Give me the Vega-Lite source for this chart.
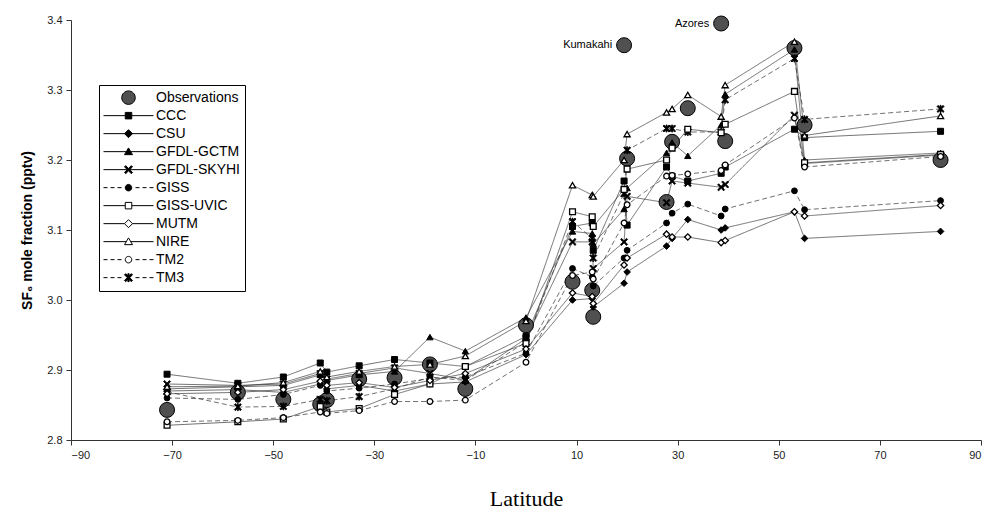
{
  "$schema": "https://vega.github.io/schema/vega-lite/v6.json",
  "width": 910,
  "height": 420,
  "autosize": {"type": "none"},
  "padding": {"left": 71, "top": 20, "right": 6, "bottom": 85},
  "background": "white",
  "config": {"view": {"stroke": null}, "font": "Liberation Sans"},
  "data": {"values": [
    {"lat": -71, "Observations": 2.843, "CCC": 2.894, "CSU": 2.870, "GFDL-GCTM": 2.873, "GFDL-SKYHI": 2.880, "GISS": 2.860, "GISS-UVIC": 2.821, "MUTM": 2.866, "NIRE": 2.876, "TM2": 2.826, "TM3": 2.869},
    {"lat": -57, "Observations": 2.868, "CCC": 2.881, "CSU": 2.872, "GFDL-GCTM": 2.876, "GFDL-SKYHI": 2.878, "GISS": 2.858, "GISS-UVIC": 2.826, "MUTM": 2.868, "NIRE": 2.877, "TM2": 2.828, "TM3": 2.847},
    {"lat": -48, "Observations": 2.858, "CCC": 2.890, "CSU": 2.868, "GFDL-GCTM": 2.878, "GFDL-SKYHI": 2.880, "GISS": 2.865, "GISS-UVIC": 2.830, "MUTM": 2.872, "NIRE": 2.882, "TM2": 2.832, "TM3": 2.848},
    {"lat": -40.7, "Observations": 2.851, "CCC": 2.910, "CSU": 2.880, "GFDL-GCTM": 2.893, "GFDL-SKYHI": 2.895, "GISS": 2.878, "GISS-UVIC": 2.848, "MUTM": 2.884, "NIRE": 2.898, "TM2": 2.840, "TM3": 2.858},
    {"lat": -39.4, "Observations": 2.857, "CCC": 2.897, "CSU": 2.873, "GFDL-GCTM": 2.885, "GFDL-SKYHI": 2.887, "GISS": 2.870, "GISS-UVIC": 2.840, "MUTM": 2.878, "NIRE": 2.890, "TM2": 2.838, "TM3": 2.856},
    {"lat": -33, "Observations": 2.887, "CCC": 2.906, "CSU": 2.878, "GFDL-GCTM": 2.893, "GFDL-SKYHI": 2.895, "GISS": 2.874, "GISS-UVIC": 2.845, "MUTM": 2.882, "NIRE": 2.898, "TM2": 2.842, "TM3": 2.862},
    {"lat": -26, "Observations": 2.889, "CCC": 2.915, "CSU": 2.870, "GFDL-GCTM": 2.898, "GFDL-SKYHI": 2.903, "GISS": 2.880, "GISS-UVIC": 2.865, "MUTM": 2.875, "NIRE": 2.905, "TM2": 2.855, "TM3": 2.873},
    {"lat": -19, "Observations": 2.908, "CCC": 2.910, "CSU": 2.880, "GFDL-GCTM": 2.947, "GFDL-SKYHI": 2.895, "GISS": 2.888, "GISS-UVIC": 2.880, "MUTM": 2.885, "NIRE": 2.908, "TM2": 2.855, "TM3": 2.890},
    {"lat": -12, "Observations": 2.873, "CCC": 2.905, "CSU": 2.883, "GFDL-GCTM": 2.927, "GFDL-SKYHI": 2.886, "GISS": 2.890, "GISS-UVIC": 2.905, "MUTM": 2.895, "NIRE": 2.920, "TM2": 2.857, "TM3": 2.885},
    {"lat": 0, "Observations": 2.964, "CCC": 2.948, "CSU": 2.922, "GFDL-GCTM": 2.975, "GFDL-SKYHI": 2.945, "GISS": 2.924, "GISS-UVIC": 2.938, "MUTM": 2.930, "NIRE": 2.970, "TM2": 2.911, "TM3": 2.940},
    {"lat": 9.2, "Observations": 3.026, "CCC": 3.105, "CSU": 3.000, "GFDL-GCTM": 3.098, "GFDL-SKYHI": 3.083, "GISS": 3.045, "GISS-UVIC": 3.126, "MUTM": 3.010, "NIRE": 3.164, "TM2": 3.035, "TM3": 3.112},
    {"lat": 13.1, "Observations": 3.014, "CCC": 3.110, "CSU": 3.002, "GFDL-GCTM": 3.095, "GFDL-SKYHI": 3.083, "GISS": 3.033, "GISS-UVIC": 3.119, "MUTM": 3.005, "NIRE": 3.150, "TM2": 3.040, "TM3": 3.088},
    {"lat": 13.3, "Observations": 2.976, "CCC": 3.071, "CSU": 2.990, "GFDL-GCTM": 3.080, "GFDL-SKYHI": 3.045, "GISS": 3.020, "GISS-UVIC": 3.105, "MUTM": 2.995, "NIRE": 3.148, "TM2": 3.030, "TM3": 3.060},
    {"lat": 19.4, "site": "Kumakahi", "Observations": 3.364, "CCC": 3.170, "CSU": 3.024, "GFDL-GCTM": 3.130, "GFDL-SKYHI": 3.083, "GISS": 3.060, "GISS-UVIC": 3.158, "MUTM": 3.050, "NIRE": 3.200, "TM2": 3.110, "TM3": 3.152},
    {"lat": 20, "Observations": 3.202, "CCC": 3.107, "CSU": 3.040, "GFDL-GCTM": 3.160, "GFDL-SKYHI": 3.148, "GISS": 3.071, "GISS-UVIC": 3.187, "MUTM": 3.060, "NIRE": 3.237, "TM2": 3.136, "TM3": 3.214},
    {"lat": 27.8, "Observations": 3.140, "CCC": 3.190, "CSU": 3.077, "GFDL-GCTM": 3.210, "GFDL-SKYHI": 3.139, "GISS": 3.110, "GISS-UVIC": 3.200, "MUTM": 3.094, "NIRE": 3.268, "TM2": 3.177, "TM3": 3.245},
    {"lat": 28.9, "Observations": 3.226, "CCC": 3.177, "CSU": 3.088, "GFDL-GCTM": 3.225, "GFDL-SKYHI": 3.170, "GISS": 3.124, "GISS-UVIC": 3.217, "MUTM": 3.090, "NIRE": 3.273, "TM2": 3.178, "TM3": 3.245},
    {"lat": 32, "Observations": 3.274, "CCC": 3.170, "CSU": 3.115, "GFDL-GCTM": 3.206, "GFDL-SKYHI": 3.167, "GISS": 3.137, "GISS-UVIC": 3.244, "MUTM": 3.090, "NIRE": 3.293, "TM2": 3.180, "TM3": 3.240},
    {"lat": 38.6, "site": "Azores", "Observations": 3.395, "CCC": 3.181, "CSU": 3.100, "GFDL-GCTM": 3.250, "GFDL-SKYHI": 3.161, "GISS": 3.120, "GISS-UVIC": 3.239, "MUTM": 3.082, "NIRE": 3.262, "TM2": 3.185, "TM3": 3.240},
    {"lat": 39.4, "Observations": 3.227, "CCC": 3.190, "CSU": 3.103, "GFDL-GCTM": 3.294, "GFDL-SKYHI": 3.165, "GISS": 3.130, "GISS-UVIC": 3.251, "MUTM": 3.085, "NIRE": 3.307, "TM2": 3.193, "TM3": 3.286},
    {"lat": 53.1, "Observations": 3.360, "CCC": 3.244, "CSU": 3.126, "GFDL-GCTM": 3.358, "GFDL-SKYHI": 3.264, "GISS": 3.156, "GISS-UVIC": 3.298, "MUTM": 3.126, "NIRE": 3.369, "TM2": 3.260, "TM3": 3.345},
    {"lat": 55.1, "Observations": 3.250, "CCC": 3.232, "CSU": 3.088, "GFDL-GCTM": 3.200, "GFDL-SKYHI": 3.195, "GISS": 3.129, "GISS-UVIC": 3.196, "MUTM": 3.120, "NIRE": 3.235, "TM2": 3.190, "TM3": 3.258},
    {"lat": 82, "Observations": 3.200, "CCC": 3.241, "CSU": 3.098, "GFDL-GCTM": 3.210, "GFDL-SKYHI": 3.207, "GISS": 3.142, "GISS-UVIC": 3.208, "MUTM": 3.135, "NIRE": 3.263, "TM2": 3.205, "TM3": 3.273}
  ]},
  "layer": [
    {
      "transform": [{"fold": ["CCC", "CSU", "GFDL-GCTM", "GFDL-SKYHI", "GISS", "GISS-UVIC", "MUTM", "NIRE", "TM2", "TM3"], "as": ["series", "v"]}],
      "mark": {"type": "line", "stroke": "#333333", "strokeWidth": 0.7},
      "encoding": {
        "x": {"field": "lat", "type": "quantitative",
          "scale": {"domain": [-90, 90], "nice": false, "zero": false},
          "axis": {"values": [-90, -70, -50, -30, -10, 10, 30, 50, 70, 90], "title": "Latitude", "grid": false,
            "titleFont": "Liberation Serif", "titleFontSize": 22, "titleFontWeight": "normal", "titleColor": "black", "titlePadding": 28,
            "labelFont": "Liberation Sans", "labelFontSize": 11, "labelColor": "#222", "labelPadding": 4,
            "tickSize": 5, "tickColor": "#333", "domainColor": "#333"}},
        "y": {"field": "v", "type": "quantitative",
          "scale": {"domain": [2.8, 3.4], "nice": false, "zero": false},
          "axis": {"values": [2.8, 2.9, 3.0, 3.1, 3.2, 3.3, 3.4], "format": ".1f", "title": "SF₆ mole fraction (pptv)", "grid": false,
            "titleFont": "Liberation Sans", "titleFontSize": 14, "titleFontWeight": "bold", "titleColor": "black", "titlePadding": 12,
            "labelFont": "Liberation Sans", "labelFontSize": 11, "labelColor": "#222", "labelPadding": 4,
            "tickSize": 5, "tickColor": "#333", "domainColor": "#333"}},
        "strokeDash": {"field": "series", "type": "nominal", "legend": null,
          "scale": {"domain": ["CCC", "CSU", "GFDL-GCTM", "GFDL-SKYHI", "GISS", "GISS-UVIC", "MUTM", "NIRE", "TM2", "TM3"],
            "range": [[1, 0], [1, 0], [1, 0], [1, 0], [5, 3], [1, 0], [1, 0], [1, 0], [5, 3], [5, 3]]}}
      }
    },
    {
      "transform": [{"fold": ["Observations"], "as": ["series", "v"]}],
      "mark": {"type": "point", "filled": true, "shape": "circle", "fill": "#505050", "stroke": "black", "strokeWidth": 1, "opacity": 1, "size": 225},
      "encoding": {"x": {"field": "lat", "type": "quantitative"}, "y": {"field": "v", "type": "quantitative"}}
    },
    {
      "transform": [{"fold": ["CCC"], "as": ["series", "v"]}],
      "mark": {"type": "point", "filled": true, "shape": "square", "fill": "black", "stroke": "black", "strokeWidth": 1, "opacity": 1, "size": 36},
      "encoding": {"x": {"field": "lat", "type": "quantitative"}, "y": {"field": "v", "type": "quantitative"}}
    },
    {
      "transform": [{"fold": ["CSU"], "as": ["series", "v"]}],
      "mark": {"type": "point", "filled": true, "shape": "diamond", "fill": "black", "stroke": "black", "strokeWidth": 1, "opacity": 1, "size": 44},
      "encoding": {"x": {"field": "lat", "type": "quantitative"}, "y": {"field": "v", "type": "quantitative"}}
    },
    {
      "transform": [{"fold": ["GFDL-GCTM"], "as": ["series", "v"]}],
      "mark": {"type": "point", "filled": true, "shape": "triangle-up", "fill": "black", "stroke": "black", "strokeWidth": 1, "opacity": 1, "size": 40},
      "encoding": {"x": {"field": "lat", "type": "quantitative"}, "y": {"field": "v", "type": "quantitative"}}
    },
    {
      "transform": [{"fold": ["GFDL-SKYHI"], "as": ["series", "v"]}],
      "mark": {"type": "point", "filled": true, "shape": "M-1,-0.7L-0.7,-1L0,-0.3L0.7,-1L1,-0.7L0.3,0L1,0.7L0.7,1L0,0.3L-0.7,1L-1,0.7L-0.3,0Z", "fill": "black", "stroke": "black", "strokeWidth": 0.8, "opacity": 1, "size": 50},
      "encoding": {"x": {"field": "lat", "type": "quantitative"}, "y": {"field": "v", "type": "quantitative"}}
    },
    {
      "transform": [{"fold": ["GISS"], "as": ["series", "v"]}],
      "mark": {"type": "point", "filled": true, "shape": "circle", "fill": "black", "stroke": "black", "strokeWidth": 1, "opacity": 1, "size": 34},
      "encoding": {"x": {"field": "lat", "type": "quantitative"}, "y": {"field": "v", "type": "quantitative"}}
    },
    {
      "transform": [{"fold": ["TM3"], "as": ["series", "v"]}],
      "mark": {"type": "point", "filled": true, "shape": "M-1,-0.7L-0.7,-1L0,-0.3L0.7,-1L1,-0.7L0.3,0L1,0.7L0.7,1L0,0.3L-0.7,1L-1,0.7L-0.3,0Z M-0.15,-1H0.15V1H-0.15Z", "fill": "black", "stroke": "black", "strokeWidth": 0.8, "opacity": 1, "size": 50},
      "encoding": {"x": {"field": "lat", "type": "quantitative"}, "y": {"field": "v", "type": "quantitative"}}
    },
    {
      "transform": [{"fold": ["GISS-UVIC"], "as": ["series", "v"]}],
      "mark": {"type": "point", "filled": true, "shape": "square", "fill": "white", "stroke": "black", "strokeWidth": 1.3, "opacity": 1, "size": 34},
      "encoding": {"x": {"field": "lat", "type": "quantitative"}, "y": {"field": "v", "type": "quantitative"}}
    },
    {
      "transform": [{"fold": ["MUTM"], "as": ["series", "v"]}],
      "mark": {"type": "point", "filled": true, "shape": "diamond", "fill": "white", "stroke": "black", "strokeWidth": 1.3, "opacity": 1, "size": 40},
      "encoding": {"x": {"field": "lat", "type": "quantitative"}, "y": {"field": "v", "type": "quantitative"}}
    },
    {
      "transform": [{"fold": ["NIRE"], "as": ["series", "v"]}],
      "mark": {"type": "point", "filled": true, "shape": "triangle-up", "fill": "white", "stroke": "black", "strokeWidth": 1.3, "opacity": 1, "size": 38},
      "encoding": {"x": {"field": "lat", "type": "quantitative"}, "y": {"field": "v", "type": "quantitative"}}
    },
    {
      "transform": [{"fold": ["TM2"], "as": ["series", "v"]}],
      "mark": {"type": "point", "filled": true, "shape": "circle", "fill": "white", "stroke": "black", "strokeWidth": 1.3, "opacity": 1, "size": 32},
      "encoding": {"x": {"field": "lat", "type": "quantitative"}, "y": {"field": "v", "type": "quantitative"}}
    },
    {
      "transform": [{"filter": "datum.site != null"}],
      "mark": {"type": "text", "align": "right", "baseline": "middle", "dx": -12, "font": "Liberation Sans", "fontSize": 11, "color": "black"},
      "encoding": {
        "x": {"field": "lat", "type": "quantitative"},
        "y": {"field": "Observations", "type": "quantitative"},
        "text": {"field": "site"}
      }
    },
    {
      "transform": [{"fold": ["Observations", "CCC", "CSU", "GFDL-GCTM", "GFDL-SKYHI", "GISS", "GISS-UVIC", "MUTM", "NIRE", "TM2", "TM3"], "as": ["series", "v"]}],
      "mark": {"type": "point", "filled": true, "strokeWidth": 1, "opacity": 0, "size": 4},
      "encoding": {
        "x": {"field": "lat", "type": "quantitative"},
        "y": {"field": "v", "type": "quantitative"},
        "fill": {"field": "series", "type": "nominal",
          "scale": {"domain": ["Observations", "CCC", "CSU", "GFDL-GCTM", "GFDL-SKYHI", "GISS", "GISS-UVIC", "MUTM", "NIRE", "TM2", "TM3"],
            "range": ["#505050", "black", "black", "black", "black", "black", "white", "white", "white", "white", "black"]}},
        "stroke": {"field": "series", "type": "nominal",
          "scale": {"domain": ["Observations", "CCC", "CSU", "GFDL-GCTM", "GFDL-SKYHI", "GISS", "GISS-UVIC", "MUTM", "NIRE", "TM2", "TM3"],
            "range": ["black", "black", "black", "black", "black", "black", "black", "black", "black", "black", "black"]}},
        "shape": {"field": "series", "type": "nominal",
          "scale": {"domain": ["Observations", "CCC", "CSU", "GFDL-GCTM", "GFDL-SKYHI", "GISS", "GISS-UVIC", "MUTM", "NIRE", "TM2", "TM3"],
            "range": [
              "M-0.27,0A0.27,0.27,0,1,0,0.27,0A0.27,0.27,0,1,0,-0.27,0Z",
              "M-1,0H1M-0.13,-0.13H0.13V0.13H-0.13Z",
              "M-1,0H1M0,-0.16L0.16,0L0,0.16L-0.16,0Z",
              "M-1,0H1M0,-0.15L0.16,0.12H-0.16Z",
              "M-1,0H1M-0.16,-0.112L-0.112,-0.16L0,-0.048L0.112,-0.16L0.16,-0.112L0.048,0L0.16,0.112L0.112,0.16L0,0.048L-0.112,0.16L-0.16,0.112L-0.048,0Z",
              "M-1,0H-0.84M-0.72,0H-0.56M-0.44,0H-0.28M0.28,0H0.44M0.56,0H0.72M0.84,0H1M-0.13,0A0.13,0.13,0,1,0,0.13,0A0.13,0.13,0,1,0,-0.13,0Z",
              "M-1,0H-0.13M0.13,0H1M-0.13,-0.13H0.13V0.13H-0.13Z",
              "M-1,0H-0.16M0.16,0H1M0,-0.16L0.16,0L0,0.16L-0.16,0Z",
              "M-1,0H-0.09M0.09,0H1M0,-0.15L0.16,0.12H-0.16Z",
              "M-1,0H-0.84M-0.72,0H-0.56M-0.44,0H-0.28M0.28,0H0.44M0.56,0H0.72M0.84,0H1M-0.13,0A0.13,0.13,0,1,0,0.13,0A0.13,0.13,0,1,0,-0.13,0Z",
              "M-1,0H-0.84M-0.72,0H-0.56M-0.44,0H-0.28M0.28,0H0.44M0.56,0H0.72M0.84,0H1M-0.16,-0.112L-0.112,-0.16L0,-0.048L0.112,-0.16L0.16,-0.112L0.048,0L0.16,0.112L0.112,0.16L0,0.048L-0.112,0.16L-0.16,0.112L-0.048,0Z M-0.024,-0.16H0.024V0.16H-0.024Z"]},
          "legend": {
            "orient": "none", "legendX": 28, "legendY": 65, "title": null,
            "symbolSize": 2500, "clipHeight": 17.3, "rowPadding": 0, "padding": 4,
            "symbolOpacity": 1, "symbolStrokeWidth": 1,
            "strokeColor": "black", "fillColor": "white",
            "labelFont": "Liberation Sans", "labelFontSize": 14, "labelColor": "black", "labelOffset": 2
          }}
      }
    }
  ]
}
